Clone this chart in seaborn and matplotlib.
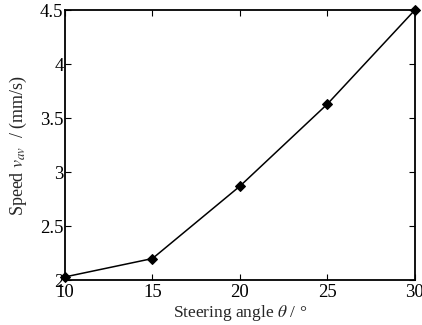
import numpy as np
import pandas as pd
import seaborn as sns
import matplotlib
matplotlib.use("Agg")
import matplotlib.pyplot as plt

angle = [10, 15, 20, 25, 30]
speed = [2.03, 2.2, 2.87, 3.63, 4.5]

df = pd.DataFrame({"angle": angle, "speed": speed})

sns.set_style("ticks")
plt.rcParams["font.family"] = ["Liberation Serif", "DejaVu Serif"]
plt.rcParams["mathtext.fontset"] = "stix"

fig = plt.figure(figsize=(4.22, 3.25), dpi=100)
ax = fig.add_axes([0.154, 0.138, 0.829, 0.831])

sns.lineplot(data=df, x="angle", y="speed", ax=ax, color="black",
             marker="D", markersize=5, linewidth=1.1, markeredgecolor="black",
             clip_on=False)

ax.set_xlim(10, 30)
ax.set_ylim(2, 4.5)
ax.set_xticks([10, 15, 20, 25, 30])
ax.set_yticks([2, 2.5, 3, 3.5, 4, 4.5])
ax.set_yticklabels(["2", "2.5", "3", "3.5", "4", "4.5"])
ax.tick_params(direction="in", top=True, right=True, length=4, width=0.8,
               labelsize=13.5, colors="black")
ax.tick_params(axis="x", pad=3)
ax.tick_params(axis="y", pad=1)
for s in ax.spines.values():
    s.set_linewidth(1.3)
    s.set_color("black")

ax.set_xlabel(r"Steering angle $\theta$ / °", fontsize=12.5, labelpad=1)
ax.set_ylabel(r"Speed $v_{av}$  / (mm/s)", fontsize=13, labelpad=8)

fig.savefig("out.png", dpi=100)
plt.close()
